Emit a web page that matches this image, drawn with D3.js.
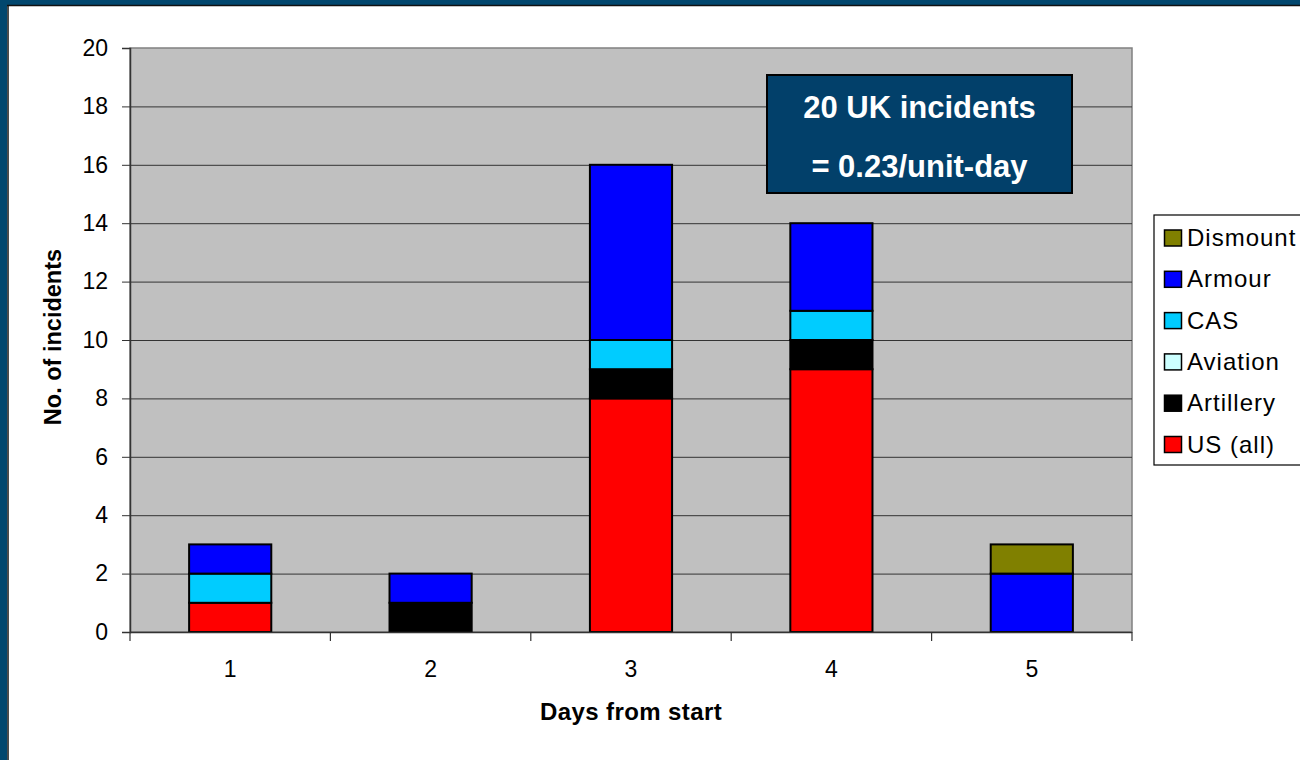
<!DOCTYPE html>
<html>
<head>
<meta charset="utf-8">
<script src="https://cdn.jsdelivr.net/npm/d3@7"></script>
<style>
  html, body { margin: 0; padding: 0; background: #fff; }
  svg { display: block; font-family: "Liberation Sans", Arial, sans-serif; }
</style>
</head>
<body>
<svg id="chart" width="1300" height="760"></svg>
<script>
// Incident counts per day, stacked by source
const days = ["1", "2", "3", "4", "5"];
const seriesNames = ["US (all)", "Artillery", "Aviation", "CAS", "Armour", "Dismount"];
const usAll     = [1, 0, 8, 9, 0];
const artillery = [0, 1, 1, 1, 0];
const aviation  = [0, 0, 0, 0, 0];
const cas       = [1, 0, 1, 1, 0];
const armour    = [1, 1, 6, 3, 2];
const dismount  = [0, 0, 0, 0, 1];
const yTicks = [0, 2, 4, 6, 8, 10, 12, 14, 16, 18, 20];
const legendOrder = ["Dismount", "Armour", "CAS", "Aviation", "Artillery", "US (all)"];
const noteLines = ["20 UK incidents", "= 0.23/unit-day"];

const seriesValues = [usAll, artillery, aviation, cas, armour, dismount];
const colors = {
  "US (all)": "#ff0000",
  "Artillery": "#000000",
  "Aviation": "#ccffff",
  "CAS": "#00ccff",
  "Armour": "#0000ff",
  "Dismount": "#808000"
};

const table = days.map((d, i) => {
  const row = { day: d };
  seriesNames.forEach((s, j) => row[s] = seriesValues[j][i]);
  return row;
});

const svg = d3.select("#chart");

// Frame
svg.append("rect").attr("x", 0).attr("y", 0).attr("width", 1300).attr("height", 760).attr("fill", "#fff");
svg.append("rect").attr("x", 0).attr("y", 0).attr("width", 1300).attr("height", 5).attr("fill", "#02476e");
svg.append("rect").attr("x", 0).attr("y", 0).attr("width", 7).attr("height", 760).attr("fill", "#02476e");
svg.append("line").attr("x1", 7).attr("x2", 1300).attr("y1", 5.5).attr("y2", 5.5).attr("stroke", "#111").attr("stroke-width", 1.5);
svg.append("line").attr("x1", 8).attr("x2", 8).attr("y1", 5).attr("y2", 760).attr("stroke", "#111").attr("stroke-width", 1.5);

const plot = { left: 130, right: 1132, top: 48, bottom: 632 };

const x = d3.scaleBand().domain(days).range([plot.left, plot.right]).padding(0);
const y = d3.scaleLinear().domain([0, 20]).range([plot.bottom, plot.top]);
const barW = x.bandwidth() * 0.41;

// Plot background
svg.append("rect")
  .attr("x", plot.left).attr("y", plot.top)
  .attr("width", plot.right - plot.left).attr("height", plot.bottom - plot.top)
  .attr("fill", "#c0c0c0").attr("stroke", "#808080").attr("stroke-width", 1.5);

// Gridlines
svg.append("g").selectAll("line").data(yTicks.filter(t => t > 0 && t < 20)).join("line")
  .attr("x1", plot.left).attr("x2", plot.right)
  .attr("y1", d => y(d) + 0.5).attr("y2", d => y(d) + 0.5)
  .attr("stroke", "#333").attr("stroke-width", 1);

// Stacked bars
const stacked = d3.stack().keys(seriesNames)(table);
const layers = svg.append("g").selectAll("g").data(stacked).join("g")
  .attr("fill", d => colors[d.key]);
layers.selectAll("rect").data(d => d.filter(p => p[1] - p[0] > 0)).join("rect")
  .attr("x", d => x(d.data.day) + (x.bandwidth() - barW) / 2)
  .attr("y", d => y(d[1]))
  .attr("width", barW)
  .attr("height", d => y(d[0]) - y(d[1]))
  .attr("stroke", "#000").attr("stroke-width", 2);

// Y axis
const yAxis = svg.append("g").attr("transform", `translate(${plot.left},0)`)
  .call(d3.axisLeft(y).tickValues(yTicks).tickSize(8).tickPadding(14));
yAxis.select(".domain").attr("stroke", "#333").attr("stroke-width", 1.5);
yAxis.selectAll(".tick line").attr("stroke", "#333");
yAxis.selectAll(".tick text").attr("font-size", 23).attr("fill", "#000")
  .attr("font-family", "Liberation Sans, Arial, sans-serif");

// X axis: ticks at category boundaries
const xAxisG = svg.append("g");
xAxisG.append("line").attr("x1", plot.left).attr("x2", plot.right)
  .attr("y1", plot.bottom + 0.5).attr("y2", plot.bottom + 0.5)
  .attr("stroke", "#333").attr("stroke-width", 1.5);
const boundaries = days.map(d => x(d)).concat([x(days[days.length - 1]) + x.bandwidth()]);
xAxisG.selectAll("line.tk").data(boundaries).join("line").attr("class", "tk")
  .attr("x1", d => d).attr("x2", d => d)
  .attr("y1", plot.bottom).attr("y2", plot.bottom + 9)
  .attr("stroke", "#333").attr("stroke-width", 1.2);
xAxisG.selectAll("text").data(days).join("text")
  .attr("x", d => x(d) + x.bandwidth() / 2)
  .attr("y", 677)
  .attr("text-anchor", "middle").attr("font-size", 23).attr("fill", "#000")
  .text(d => d);

// Axis titles
svg.append("text").attr("x", 631).attr("y", 720).attr("text-anchor", "middle")
  .attr("font-size", 24).attr("font-weight", "bold").attr("letter-spacing", 0.4)
  .text("Days from start");
svg.append("text").attr("transform", "translate(61,337) rotate(-90)")
  .attr("text-anchor", "middle").attr("font-size", 23.5).attr("font-weight", "bold")
  .text("No. of incidents");

// Note box
const note = svg.append("g");
note.append("rect").attr("x", 767).attr("y", 75).attr("width", 305).attr("height", 118)
  .attr("fill", "#02406a").attr("stroke", "#000").attr("stroke-width", 2);
note.selectAll("text").data(noteLines).join("text")
  .attr("x", 919.5).attr("y", (d, i) => 118 + i * 59)
  .attr("text-anchor", "middle").attr("fill", "#fff")
  .attr("font-size", 31).attr("font-weight", "bold").text(d => d);

// Legend
const legend = svg.append("g");
legend.append("rect").attr("x", 1154).attr("y", 215).attr("width", 160).attr("height", 250)
  .attr("fill", "#fff").attr("stroke", "#000").attr("stroke-width", 1.2);
const items = legend.selectAll("g").data(legendOrder).join("g")
  .attr("transform", (d, i) => `translate(1164,${246 + i * 41.3})`);
items.append("rect").attr("x", 0.5).attr("y", -16).attr("width", 17).attr("height", 16)
  .attr("fill", d => colors[d]).attr("stroke", "#000").attr("stroke-width", 1.5);
items.append("text").attr("x", 23).attr("y", 0).attr("font-size", 24).attr("fill", "#000")
  .attr("letter-spacing", 1).text(d => d);
</script>
</body>
</html>
